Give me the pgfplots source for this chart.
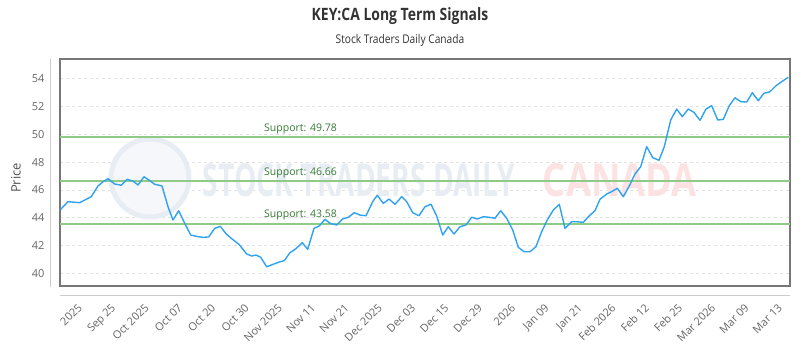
\documentclass[border=0pt]{standalone}
\usepackage{fontspec}
\setmainfont{Open Sans}
\usepackage{graphicx}
\usepackage{pgfplots}
\pgfplotsset{compat=1.18}
\definecolor{lineblue}{HTML}{2FA2F2}
\definecolor{supline}{HTML}{8FCB86}
\definecolor{suptext}{HTML}{357A35}
\definecolor{titlegray}{HTML}{333333}
\definecolor{tickgray}{HTML}{666666}
\definecolor{framegray}{HTML}{777777}
\definecolor{sepgray}{HTML}{CCCCCC}
\definecolor{gridgray}{HTML}{E2E2E2}
\definecolor{wmblue}{HTML}{E8EDF3}
\definecolor{wmfill}{HTML}{F5F7FA}
\definecolor{wmred}{HTML}{FCE2E2}
\begin{document}
\begin{tikzpicture}
\path[use as bounding box] (0,0) rectangle (800bp,350bp);
\node[text=titlegray, font=\bfseries\fontsize{17bp}{20bp}\selectfont] at (400bp,334bp) {\scalebox{0.82}[1]{KEY:CA Long Term Signals}};
\node[text=titlegray, font=\fontsize{12bp}{14bp}\selectfont] at (400bp,310bp) {\scalebox{0.85}[1]{Stock Traders Daily Canada}};
\node[text=tickgray!80!black, rotate=90, font=\fontsize{13bp}{15bp}\selectfont] at (16bp,172bp) {Price};
\draw[sepgray, line width=1bp] (60bp,54bp) -- (790bp,54bp);
\draw[sepgray, line width=1bp] (50bp,291bp) -- (50bp,63bp);
\begin{axis}[
  at={(60bp,64bp)}, anchor=south west,
  width=730bp, height=227bp, scale only axis,
  xmin=60, xmax=790, ymin=39.11, ymax=55.40,
  axis line style={draw=framegray, line width=1.2bp},
  major tick length=0pt,
  ytick={40,42,44,46,48,50,52,54},
  ymajorgrids,
  grid style={dash pattern=on 3bp off 3bp, color=gridgray, line width=0.8bp},
  xtick={83.5,116.8,150.2,183.5,216.8,250.2,283.5,316.8,350.2,383.5,416.8,450.2,483.5,516.8,550.2,583.5,616.8,650.2,683.5,716.8,750.2,783.5},
  xticklabels={2025,Sep 25,Oct 2025,Oct 07,Oct 20,Oct 30,Nov 2025,Nov 11,Nov 21,Dec 2025,Dec 03,Dec 15,Dec 29,2026,Jan 09,Jan 21,Feb 2026,Feb 12,Feb 25,Mar 2026,Mar 09,Mar 13},
  /pgf/number format/assume math mode=true,
  tick label style={text=tickgray, font=\fontsize{11bp}{13bp}\selectfont},
  yticklabel style={anchor=east, xshift=-12bp},
  xticklabel style={rotate=45, anchor=north east, yshift=-4bp, xshift=-13bp},
]
% watermark
\draw[wmblue, fill=wmfill, line width=5bp] (axis cs:150,46.86) circle[radius=39bp];
\node[inner sep=0pt, text=wmblue] at (axis cs:359,46.72) {\resizebox{312bp}{33bp}{\bfseries STOCK TRADERS DAILY}};
\node[inner sep=0pt, text=wmred] at (axis cs:620,46.72) {\resizebox{154bp}{33bp}{\bfseries CANADA}};
% support lines
\addplot[supline, line width=1.8bp, forget plot] coordinates {(60,49.78) (790,49.78)};
\addplot[supline, line width=1.8bp, forget plot] coordinates {(60,46.66) (790,46.66)};
\addplot[supline, line width=1.8bp, forget plot] coordinates {(60,43.58) (790,43.58)};
\node[anchor=south west, inner sep=0pt, yshift=3bp, text=suptext, font=\fontsize{10.5bp}{12bp}\selectfont] at (axis cs:264,49.78) {Support: 49.78};
\node[anchor=south west, inner sep=0pt, yshift=3bp, text=suptext, font=\fontsize{10.5bp}{12bp}\selectfont] at (axis cs:264,46.66) {Support: 46.66};
\node[anchor=south west, inner sep=0pt, yshift=3bp, text=suptext, font=\fontsize{10.5bp}{12bp}\selectfont] at (axis cs:264,43.58) {Support: 43.58};
% price
\addplot[lineblue, line width=1.4bp, line join=round] table {
x y
60.3 44.58
68 45.16
79.7 45.09
91.3 45.52
98 46.29
103 46.59
108 46.81
114.7 46.43
121.3 46.34
127 46.77
133 46.64
138 46.36
144 46.95
149.7 46.67
154.7 46.41
162 46.29
168 44.80
173 43.85
178.7 44.51
184.7 43.61
190.7 42.77
198 42.65
203 42.60
208.7 42.63
214.7 43.25
220.3 43.39
226.3 42.84
231.3 42.53
239 42.10
246.7 41.41
251.7 41.26
256 41.33
260.7 41.17
266.7 40.49
273.3 40.67
279.3 40.83
284.3 40.93
290 41.50
296 41.79
302.3 42.22
307.7 41.74
314 43.25
319.3 43.42
325 43.90
330 43.61
336.7 43.49
342.7 43.92
348.3 44.04
354.3 44.37
360 44.20
366 44.15
372.7 45.16
377.3 45.62
383.3 45.04
389 45.35
395 44.97
401.7 45.52
406.7 45.16
412.7 44.37
419 44.15
425 44.80
431 44.98
436.7 44.13
442.7 42.77
448.3 43.36
454 42.84
460 43.36
466 43.49
471.7 44.04
477.3 43.92
483.3 44.08
489.3 44.04
495 43.97
500.7 44.51
506.7 43.97
512.7 43.13
518.3 41.89
524 41.57
530 41.57
536 41.93
541.7 43.01
547.3 43.85
553.3 44.56
559.3 44.97
565 43.25
571.7 43.72
577.3 43.72
583.3 43.68
589 44.13
595 44.51
600 45.33
606.7 45.71
611.7 45.88
617.3 46.12
623.3 45.52
629.3 46.29
635 47.15
640.7 47.67
646.7 49.11
652.7 48.32
659 48.13
664.3 49.11
670.7 51.02
676.7 51.81
682.3 51.26
688.3 51.81
694 51.57
700 51.00
706 51.81
711.7 52.05
717.7 51.02
723.3 51.07
729.3 52.05
735 52.62
740.7 52.34
746.7 52.31
752.3 52.98
758.3 52.41
764 52.94
770 53.05
776 53.48
781.7 53.77
788.3 54.09
};
\end{axis}
\end{tikzpicture}
\end{document}
